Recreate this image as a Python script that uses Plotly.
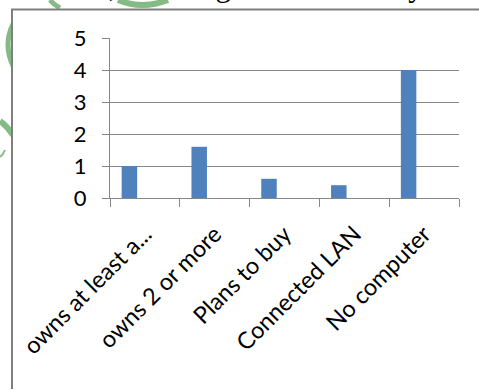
import plotly.graph_objects as go

# Survey responses about computer ownership
categories = ["owns at least a...", "owns 2 or more", "Plans to buy", "Connected LAN", "No computer"]
values = [1.0, 1.6, 0.6, 0.4, 4.0]
y_ticks = [0, 1, 2, 3, 4, 5]

heading = "internet, meaning less than two years"

FIG_W, FIG_H = 479, 390
L, R, T, B = 110, 20, 38, 192
PW, PH = FIG_W - L - R, FIG_H - T - B

GRID = "#878787"
FRAME = "#7F7F7F"
BAR = "#4F81BD"
MARK = "rgba(110,175,110,0.85)"


def px(x):
    return (x - L) / PW


def py(y):
    return 1 - (y - T) / PH


def qpath(p0, c, p1):
    return (f"M {px(p0[0]):.5f},{py(p0[1]):.5f} "
            f"Q {px(c[0]):.5f},{py(c[1]):.5f} {px(p1[0]):.5f},{py(p1[1]):.5f}")


fig = go.Figure()
fig.add_trace(go.Bar(
    x=categories, y=values,
    marker=dict(color=BAR, line=dict(width=0)),
    width=0.222, offset=-0.333,
    hoverinfo="x+y",
))

shapes = []
# faint green logo strokes behind the chart frame
for d, w in [
    (qpath((13, 24), (3, 44), (13, 66)), 5),
    (qpath((0, 121), (7, 126), (13, 135)), 6),
    (qpath((0, 157), (3, 155), (5, 150)), 2),
    (qpath((50, 0), (54, 5), (60, 8)), 5),
    (qpath((118, 0), (142, 10), (168, 0)), 6),
]:
    shapes.append(dict(type="path", xref="paper", yref="paper", path=d,
                       line=dict(color=MARK, width=w), layer="below"))
# white chart area covering the logo
shapes.append(dict(type="rect", xref="paper", yref="paper",
                   x0=px(12), x1=px(478), y0=py(9.5), y1=py(389),
                   line=dict(width=0), fillcolor="white", layer="below"))
# chart frame outline
shapes.append(dict(type="path", xref="paper", yref="paper",
                   path=(f"M {px(12):.5f},{py(389):.5f} L {px(12):.5f},{py(9.5):.5f} "
                         f"L {px(479):.5f},{py(9.5):.5f}"),
                   line=dict(color=FRAME, width=2), layer="above"))

fig.update_layout(
    width=FIG_W, height=FIG_H,
    margin=dict(l=L, r=R, t=T, b=B, pad=0),
    paper_bgcolor="white", plot_bgcolor="rgba(0,0,0,0)",
    showlegend=False,
    font=dict(family="Lato", color="black"),
    shapes=shapes,
    annotations=[dict(
        text=heading, xref="paper", yref="paper",
        x=px(12), y=py(5.5), xanchor="left", yanchor="bottom",
        showarrow=False,
        font=dict(family="Liberation Serif", size=31, color="black"),
    )],
    xaxis=dict(
        type="category", showgrid=False,
        showline=True, linecolor=GRID, linewidth=1.3,
        ticks="outside", ticklen=8, tickcolor=GRID, tickwidth=1.3,
        tickson="boundaries", tickangle=-45,
        ticklabelstandoff=12,
        tickfont=dict(family="Lato", size=23.5, color="black"),
        fixedrange=True,
    ),
    yaxis=dict(
        range=[0, 5], tickvals=y_ticks,
        showgrid=True, gridcolor=GRID, gridwidth=1.3,
        showline=True, linecolor=GRID, linewidth=1.3,
        ticks="outside", ticklen=7, tickcolor=GRID, tickwidth=1.3,
        ticklabelstandoff=11,
        tickfont=dict(family="Lato", size=22, color="black"),
        zeroline=False, fixedrange=True,
    ),
)

fig.write_html("out.html")
